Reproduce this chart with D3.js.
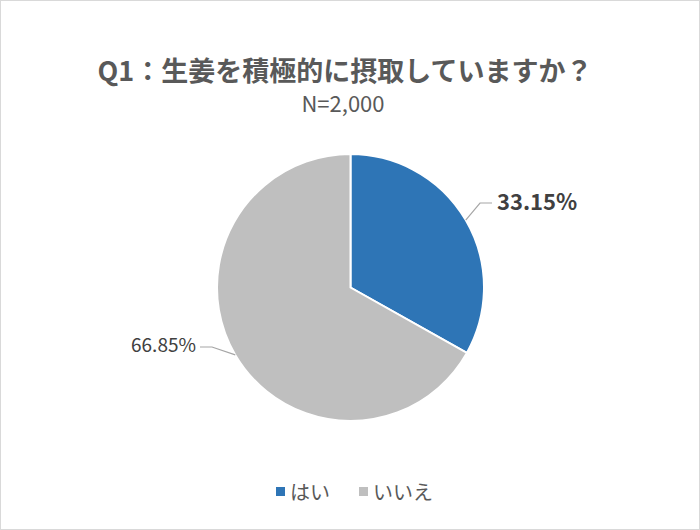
<!DOCTYPE html>
<html>
<head>
<meta charset="utf-8">
<script src="https://cdn.jsdelivr.net/npm/d3@7"></script>
<style>
  body { margin: 0; background: #fff; }
  svg text { font-family: "Noto Sans CJK JP", "Noto Sans", sans-serif; }
</style>
</head>
<body>
<div id="chart-area"></div>
<script>
// data
var categories = ["はい", "いいえ"];
var values = [33.15, 66.85];
var colors = ["#2E75B6", "#BFBFBF"];

var width = 700;
var height = 530;
var cx = 350.5, cy = 287.5, radius = 133.5;

var svg = d3.select("#chart-area").append("svg")
    .attr("width", width)
    .attr("height", height);

svg.append("rect")
    .attr("x", 0.5).attr("y", 0.5)
    .attr("width", width - 1).attr("height", height - 1)
    .attr("fill", "#fff")
    .attr("stroke", "#D9D9D9");

svg.append("text")
    .attr("x", 345).attr("y", 81)
    .attr("text-anchor", "middle")
    .attr("font-size", "27px")
    .attr("font-weight", "bold")
    .style("fill", "#595959")
    .text("Q1：生姜を積極的に摂取していますか？");

svg.append("text")
    .attr("x", 343).attr("y", 112)
    .attr("text-anchor", "middle")
    .attr("font-size", "22px")
    .style("fill", "#595959")
    .text("N=2,000");

var pie = d3.pie().sort(null).value((d) => { return d; });
var arc = d3.arc().innerRadius(0).outerRadius(radius);
var arcs = pie(values);

var g = svg.append("g")
    .attr("transform", "translate(" + cx + ", " + cy + ")");

g.selectAll("path")
    .data(arcs)
    .enter()
    .append("path")
    .attr("d", arc)
    .attr("fill", (d, i) => { return colors[i]; })
    .attr("stroke", "#fff")
    .attr("stroke-width", 2);

// leader lines and labels
var labelArc = d3.arc().innerRadius(radius).outerRadius(radius);
var label = [
  {elbow: [480, 203], end: [492, 203], tx: 497, ty: 206, anchor: "start", bold: true, size: "22px"},
  {elbow: [212, 347], end: [200, 347], tx: 196, ty: 349, anchor: "end", bold: false, size: "19px"}
];

arcs.forEach((d, i) => {
  var p = labelArc.centroid(d);
  var L = label[i];
  var start = [cx + p[0], cy + p[1]];
  svg.append("polyline")
      .attr("points", [start, L.elbow, L.end].map((q) => q.join(",")).join(" "))
      .attr("fill", "none")
      .attr("stroke", "#A6A6A6")
      .attr("stroke-width", 1.2);
  svg.append("text")
      .attr("x", L.tx).attr("y", L.ty)
      .attr("text-anchor", L.anchor)
      .attr("dominant-baseline", "middle")
      .attr("dy", "-0.1em")
      .attr("font-size", L.size)
      .attr("font-weight", L.bold ? "bold" : "normal")
      .style("fill", "#404040")
      .text(values[i].toFixed(2) + "%");
});

// legend
var legendX = [276, 359];
var legend = svg.selectAll(".legend")
    .data(categories)
    .enter()
    .append("g")
    .attr("class", "legend")
    .attr("transform", (d, i) => { return "translate(" + legendX[i] + ", 492)"; });

legend.append("rect")
    .attr("x", 0).attr("y", -5)
    .attr("width", 9).attr("height", 9)
    .attr("fill", (d, i) => { return colors[i]; });

legend.append("text")
    .attr("x", 14).attr("y", 8)
    .attr("font-size", "20px")
    .style("fill", "#595959")
    .text((d) => { return d; });
</script>
</body>
</html>
